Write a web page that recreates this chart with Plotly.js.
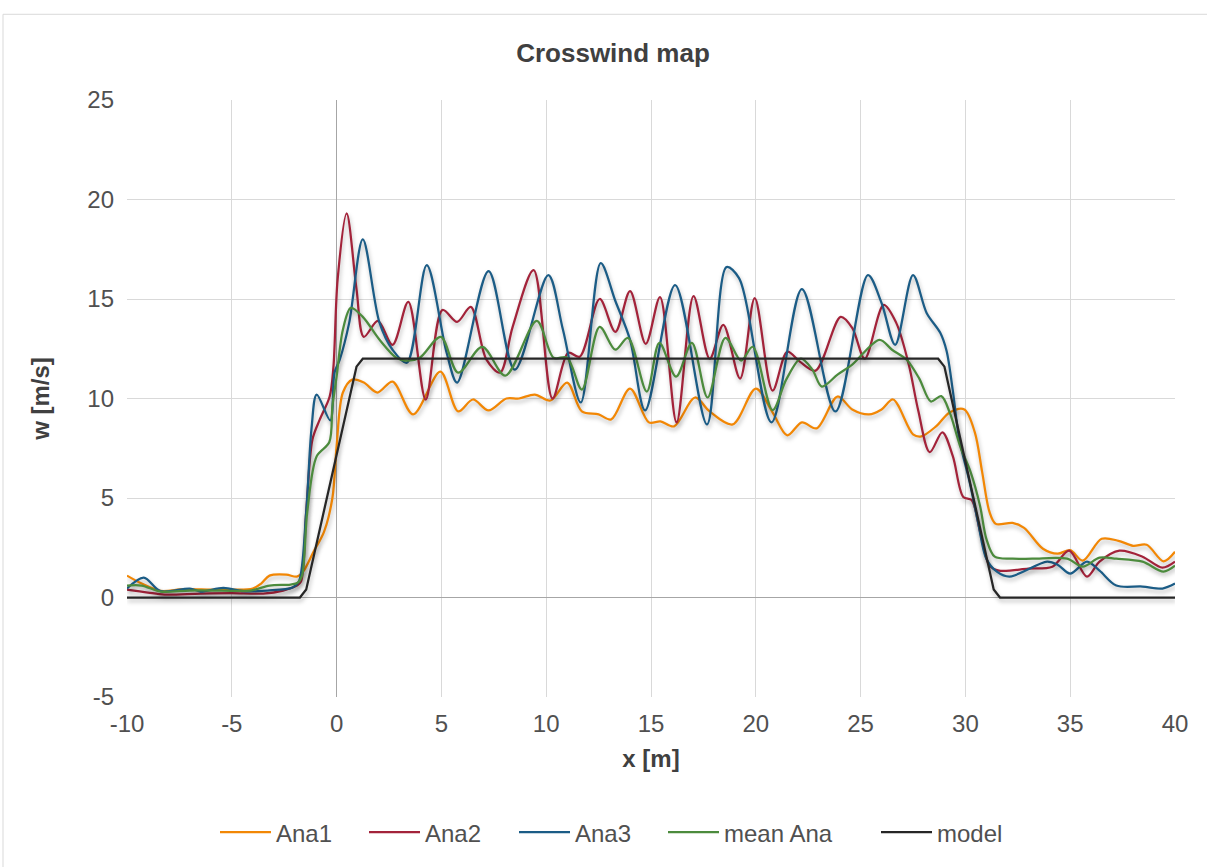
<!DOCTYPE html>
<html>
<head>
<meta charset="utf-8">
<script src="https://cdn.plot.ly/plotly-3.0.1.min.js"></script>
<style>
  html, body { margin: 0; padding: 0; background: #ffffff; }
  #chart { width: 1207px; height: 867px; }
  #chart .scatterlayer .js-line { filter: drop-shadow(1px 3px 2px rgba(0,0,0,0.28)); }
</style>
</head>
<body>
<div id="chart"></div>
<script>
// ---------- data ----------
const ana1X = [-10, -9.3, -8.4, -7.3, -6, -5, -4, -3.6, -3.2, -2.4, -1.9, -1.6, -1.1, -0.6, -0.2, 0, 0.3, 0.75, 1.3, 1.95, 2.67, 3.65, 4.95, 5.8, 6.5, 7.25, 8.1, 8.7, 9.45, 10.2, 11.0, 11.7, 12.5, 13.1, 14.0, 14.9, 15.45, 16.1, 17.1, 17.8, 18.9, 20.0, 20.8, 21.5, 22.2, 22.9, 23.9, 24.6, 25.4, 26.0, 26.55, 27.5, 27.9, 28.6, 29.25, 29.95, 30.45, 30.8, 31.15, 31.45, 32.25, 32.8, 33.7, 34.4, 35.0, 35.6, 36.5, 37.3, 38.0, 38.65, 39.45, 40];
const ana1Y = [1.1, 0.7, 0.33, 0.42, 0.4, 0.4, 0.45, 0.7, 1.1, 1.15, 1.05, 1.3, 2.3, 3.3, 5.0, 7.6, 10.3, 10.95, 10.8, 10.3, 10.85, 9.2, 11.35, 9.35, 9.95, 9.4, 10.0, 10.0, 10.2, 9.9, 10.8, 9.35, 9.2, 8.95, 10.5, 8.8, 8.85, 8.6, 10.05, 9.35, 8.7, 10.5, 9.3, 8.15, 8.8, 8.5, 10.1, 9.45, 9.2, 9.45, 9.95, 8.2, 8.1, 8.6, 9.3, 9.45, 8.3, 6.3, 4.3, 3.7, 3.75, 3.5, 2.45, 2.2, 2.38, 1.85, 2.95, 2.85, 2.6, 2.65, 1.82, 2.3];

const ana2X = [-10, -9, -8.2, -6.5, -5, -3.5, -2.55, -1.9, -1.7, -1.45, -1.15, -0.8, -0.33, -0.15, 0.05, 0.48, 0.95, 1.3, 1.97, 2.67, 3.42, 4.25, 5.05, 5.75, 6.4, 7.15, 7.8, 8.4, 9.4, 10.3, 11.05, 11.6, 12.55, 13.3, 14.0, 14.75, 15.43, 16.22, 17.03, 17.8, 18.45, 19.25, 19.95, 20.8, 21.5, 22.1, 22.85, 24.05, 24.6, 25.2, 26.1, 26.7, 27.3, 27.75, 28.3, 28.9, 29.4, 29.9, 30.3, 30.7, 31.15, 31.6, 33.0, 34.15, 34.95, 35.8, 36.4, 37.35, 38.45, 39.4, 40];
const ana2Y = [0.4, 0.25, 0.15, 0.2, 0.22, 0.2, 0.35, 0.6, 0.8, 4.3, 7.95, 8.95, 10.1, 11.6, 16.0, 19.3, 15.5, 13.1, 13.9, 12.7, 14.85, 9.95, 14.45, 13.85, 14.6, 11.95, 11.3, 13.6, 16.45, 10.0, 12.3, 12.1, 15.0, 13.35, 15.4, 12.75, 15.1, 8.8, 15.15, 12.0, 13.7, 11.0, 15.05, 10.4, 12.35, 11.85, 11.4, 14.1, 13.55, 12.0, 14.7, 13.8, 11.7, 9.4, 7.3, 8.3, 7.1, 5.05, 4.9, 3.3, 1.6, 1.35, 1.45, 1.55, 2.35, 1.05, 1.8, 2.35, 2.05, 1.5, 1.8];

const ana3X = [-10, -9.2, -8.4, -7.0, -6.5, -5.4, -4.45, -3.3, -2.1, -1.8, -1.45, -1.2, -0.95, -0.3, -0.1, 0.15, 0.6, 1.25, 2.05, 2.67, 3.35, 4.3, 5.25, 5.75, 7.25, 8.5, 10.1, 10.8, 11.65, 12.6, 13.3, 14.0, 14.72, 16.15, 17.67, 18.6, 19.2, 20.75, 22.2, 23.8, 25.35, 26.0, 26.65, 27.5, 28.15, 28.8, 29.1, 29.4, 29.7, 30.2, 30.6, 31.0, 31.5, 32.1, 33.9, 34.4, 35.0, 35.8, 36.4, 37.2, 38.45, 39.4, 40];
const ana3Y = [0.45, 1.0, 0.32, 0.45, 0.3, 0.48, 0.32, 0.35, 0.5, 0.8, 4.3, 8.45, 10.2, 8.9, 11.3, 11.95, 13.8, 18.0, 13.8, 12.45, 11.8, 16.7, 12.3, 10.8, 16.4, 11.45, 16.2, 13.45, 9.8, 16.8, 14.9, 12.95, 9.4, 15.7, 8.7, 16.6, 16.05, 8.8, 15.5, 9.35, 16.2, 14.8, 12.7, 16.2, 14.3, 13.3, 12.4, 10.4, 8.0, 5.8, 3.8, 1.95, 1.3, 1.05, 1.8, 1.65, 1.2, 1.8, 1.35, 0.6, 0.55, 0.45, 0.7];

const meanX = [-10, -9.3, -8.4, -7, -5.5, -4.1, -3.2, -2.2, -1.85, -1.65, -1.4, -0.95, -0.35, -0.2, 0, 0.3, 0.68, 1.25, 2.05, 2.85, 3.4, 3.97, 4.97, 5.8, 6.95, 8.05, 9.55, 10.35, 11.0, 11.7, 12.55, 13.3, 13.9, 14.8, 15.4, 16.2, 16.95, 17.7, 18.55, 19.3, 19.85, 20.8, 21.45, 22.15, 22.7, 23.15, 23.9, 24.6, 25.9, 26.5, 27.2, 27.8, 28.35, 28.85, 29.25, 29.75, 30.25, 30.7, 31.0, 31.4, 32.25, 33.2, 34.85, 35.6, 36.4, 37.2, 38.45, 39.45, 40];
const meanY = [0.6, 0.6, 0.3, 0.35, 0.35, 0.35, 0.6, 0.65, 0.75, 1.1, 4.3, 7.1, 7.8, 9.6, 11.1, 13.45, 14.55, 14.1, 12.95, 12.05, 11.9, 12.05, 13.1, 11.3, 12.6, 11.15, 13.9, 12.05, 12.05, 10.45, 13.6, 12.45, 13.05, 10.35, 12.8, 11.1, 12.8, 10.05, 13.05, 11.9, 12.6, 9.42, 10.95, 12.0, 11.45, 10.6, 11.2, 11.7, 12.95, 12.45, 11.95, 11.0, 9.85, 10.12, 9.3, 7.6, 6.3, 4.6, 2.95, 2.05, 1.95, 1.95, 1.95, 1.55, 2.0, 1.95, 1.8, 1.3, 1.6];

const modelX = [-10, -1.75, -1.45, 0.95, 1.25, 28.7, 29.0, 31.35, 31.65, 40];
const modelY = [0, 0, 0.4, 11.6, 12, 12, 11.6, 0.4, 0, 0];

const seriesNames = ["Ana1", "Ana2", "Ana3", "mean Ana", "model"];
const xTickVals = [-10, -5, 0, 5, 10, 15, 20, 25, 30, 35, 40];
const yTickVals = [-5, 0, 5, 10, 15, 20, 25];

// ---------- styling ----------
const colors = ["#F28705", "#A3233A", "#1B5C86", "#4C8B3D", "#262626"];
const FONT = "Liberation Sans, Arial, sans-serif";
const TXT = "#505050";

const xs = [ana1X, ana2X, ana3X, meanX, modelX];
const ys = [ana1Y, ana2Y, ana3Y, meanY, modelY];
const legendIds = ["legend", "legend2", "legend3", "legend4", "legend5"];

const traces = seriesNames.map((name, i) => ({
  type: "scatter",
  mode: "lines",
  name: name,
  x: xs[i],
  y: ys[i],
  legend: legendIds[i],
  line: {
    color: colors[i],
    width: 2.25,
    shape: i === 4 ? "linear" : "spline",
    smoothing: 0.9
  },
  hoverinfo: "x+y+name"
}));

// legend left edges in plot pixels (converted to paper units)
const plotL = 127, plotW = 1048, plotB = 699, plotH = 599;
const legendLeftPx = [215, 364, 514, 663, 876];
const legendY = (plotB - 835) / plotH;

const layout = {
  width: 1207,
  height: 867,
  paper_bgcolor: "#ffffff",
  plot_bgcolor: "#ffffff",
  margin: { l: 127, r: 32, t: 100, b: 168 },
  font: { family: FONT, color: TXT, size: 24 },
  title: {
    text: "<b>Crosswind map</b>",
    font: { family: FONT, size: 26, color: "#404040" },
    xref: "container", yref: "container",
    x: 613 / 1207, xanchor: "center",
    y: 1 - 53 / 867, yanchor: "middle"
  },
  xaxis: {
    range: [-10, 40],
    tickvals: xTickVals,
    ticktext: xTickVals.map(String),
    showgrid: true, gridcolor: "#D9D9D9", gridwidth: 1,
    zeroline: true, zerolinecolor: "#A6A6A6", zerolinewidth: 1,
    showline: false, ticks: "",
    tickfont: { family: FONT, size: 24, color: TXT },
    ticklabelstandoff: 10,
    title: { text: "<b>x [m]</b>", font: { family: FONT, size: 24, color: "#404040" }, standoff: 14 },
    fixedrange: true
  },
  yaxis: {
    range: [-5, 25],
    tickvals: yTickVals,
    ticktext: yTickVals.map(String),
    showgrid: true, gridcolor: "#D9D9D9", gridwidth: 1,
    zeroline: true, zerolinecolor: "#A6A6A6", zerolinewidth: 1,
    showline: false, ticks: "",
    tickfont: { family: FONT, size: 24, color: TXT },
    ticklabelstandoff: 12,
    title: { text: "<b>w [m/s]</b>", font: { family: FONT, size: 24, color: "#404040" }, standoff: 30 },
    fixedrange: true
  },
  showlegend: true,
  shapes: [{
    type: "rect", xref: "paper", yref: "paper",
    x0: (3 - plotL) / plotW, x1: (1260 - plotL) / plotW,
    y0: (plotB - 920) / plotH, y1: (plotB - 14) / plotH,
    line: { color: "#D9D9D9", width: 1 }, fillcolor: "rgba(0,0,0,0)", layer: "below"
  }]
};

legendIds.forEach((id, i) => {
  layout[id] = {
    x: (legendLeftPx[i] - plotL) / plotW,
    xanchor: "left",
    y: legendY,
    yanchor: "middle",
    orientation: "h",
    bgcolor: "rgba(0,0,0,0)",
    borderwidth: 0,
    itemwidth: 51,
    font: { family: FONT, size: 24, color: TXT }
  };
});

Plotly.newPlot("chart", traces, layout, { displayModeBar: false, responsive: false });
</script>
</body>
</html>
